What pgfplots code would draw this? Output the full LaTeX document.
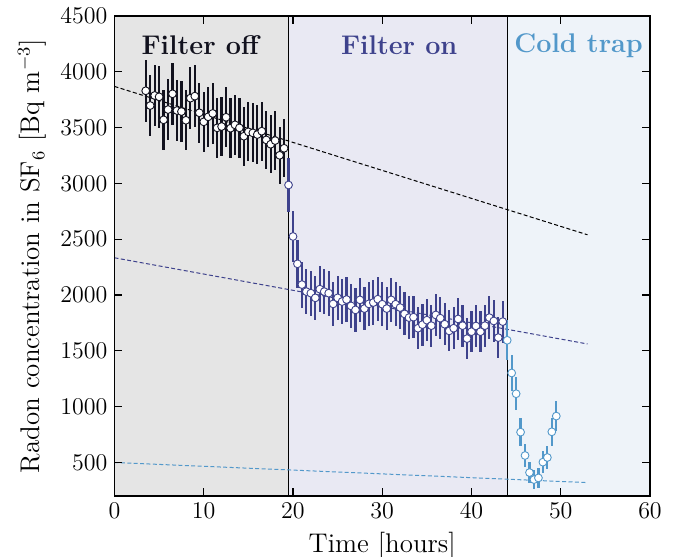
\documentclass[border=0pt]{standalone}
\usepackage{pgfplots}
\usepackage{pgfplotstable}
\pgfplotsset{compat=1.18}
\definecolor{cOff}{RGB}{18,18,30}
\definecolor{cOn}{RGB}{62,66,140}
\definecolor{cCold}{RGB}{82,152,202}
\definecolor{bgOff}{RGB}{229,229,229}
\definecolor{bgOn}{RGB}{233,233,243}
\definecolor{bgCold}{RGB}{238,243,249}

\pgfplotstableread{
x y e
3.5 3830 278
4.0 3698 274
4.5 3788 277
5.0 3776 277
5.5 3570 269
6.0 3662 272
6.5 3803 277
7.0 3653 272
7.5 3644 272
8.0 3566 269
8.5 3764 276
9.0 3782 277
9.5 3633 271
10.0 3552 268
10.5 3597 270
11.0 3627 271
11.5 3498 266
12.0 3510 267
12.5 3593 270
13.0 3495 266
13.5 3525 267
14.0 3498 266
14.5 3423 263
15.0 3462 265
15.5 3453 264
16.0 3438 264
16.5 3468 265
17.0 3390 262
17.5 3351 260
18.0 3384 262
18.5 3252 257
19.0 3315 259
}\dataoff

\pgfplotstableread{
x y e
19.5 2986 246
20.0 2525 226
20.5 2280 215
21.0 2094 206
21.5 2031 203
22.0 2017 202
22.5 1975 200
23.0 2053 204
23.5 2031 203
24.0 2017 202
24.5 1921 197
25.0 1975 200
25.5 1942 198
26.0 1960 199
26.5 1903 196
27.0 1867 194
27.5 1957 199
28.0 1879 195
28.5 1921 197
29.0 1933 198
29.5 1963 199
30.0 1918 197
30.5 1879 195
31.0 1957 199
31.5 1918 197
32.0 1888 196
32.5 1831 193
33.0 1798 191
33.5 1802 191
34.0 1703 186
34.5 1735 187
35.0 1775 190
35.5 1726 187
36.0 1822 192
36.5 1793 191
37.0 1739 188
37.5 1679 184
38.0 1703 186
38.5 1786 190
39.0 1726 187
39.5 1610 181
40.0 1672 184
40.5 1723 187
41.0 1672 184
41.5 1726 187
42.0 1798 191
42.5 1768 189
43.0 1619 181
43.5 1762 189
}\dataon

\pgfplotstableread{
x y e
44.0 1595 180
44.5 1302 162
45.0 1116 150
45.5 772 125
46.0 563 107
46.5 410 91
47.0 347 84
47.5 362 86
48.0 503 101
48.5 545 105
49.0 775 125
49.5 916 136
}\datacold

\begin{document}
\begin{tikzpicture}
\begin{axis}[
  at={(0,0)}, anchor=south west,
  width=267.75pt, height=240pt, scale only axis,
  xmin=0, xmax=60, ymin=200, ymax=4500,
  xtick={0,10,...,60}, ytick={500,1000,...,4500},
  tick align=inside, major tick length=4pt,
  every tick/.style={black, line width=0.6pt},
  axis line style={black, line width=0.9pt},
  tick label style={font=\fontsize{11.5}{13}\selectfont},
  y tick label style={/pgf/number format/1000 sep={}},
  scaled y ticks=false,
  label style={font=\fontsize{13.5}{16}\selectfont},
  xlabel={Time [hours]},
  ylabel={Radon concentration in SF$_6$ [Bq m$^{-3}$]},
  axis on top,
  clip=true,
]
\fill[bgOff] (axis cs:0,200) rectangle (axis cs:19.5,4500);
\fill[bgOn] (axis cs:19.5,200) rectangle (axis cs:44,4500);
\fill[bgCold] (axis cs:44,200) rectangle (axis cs:60,4500);
\draw[black, line width=0.6pt] (axis cs:19.5,200) -- (axis cs:19.5,4500);
\draw[black, line width=0.6pt] (axis cs:44,200) -- (axis cs:44,4500);

\addplot[black, line width=0.5pt, dash pattern=on 2pt off 1.2pt] coordinates {(0,3869) (53,2540)};
\addplot[cOn, line width=0.5pt, dash pattern=on 2pt off 1.2pt] coordinates {(0,2334) (53,1562)};
\addplot[cCold, line width=0.5pt, dash pattern=on 2pt off 1.2pt] coordinates {(0,500) (53,320)};

\addplot[only marks, mark=*, mark size=1.95pt,
  mark options={fill=white, draw=cOff, line width=0.45pt},
  error bars/.cd, y dir=both, y explicit, error mark=none,
  error bar style={line width=1.1pt, cOff}]
  table[x=x, y=y, y error=e] {\dataoff};
\addplot[only marks, mark=*, mark size=1.95pt,
  mark options={fill=white, draw=cOn, line width=0.45pt},
  error bars/.cd, y dir=both, y explicit, error mark=none,
  error bar style={line width=1.1pt, cOn}]
  table[x=x, y=y, y error=e] {\dataon};
\addplot[only marks, mark=*, mark size=1.95pt,
  mark options={fill=white, draw=cCold, line width=0.45pt},
  error bars/.cd, y dir=both, y explicit, error mark=none,
  error bar style={line width=1.1pt, cCold}]
  table[x=x, y=y, y error=e] {\datacold};

\node[font=\fontsize{13.5}{16}\selectfont\bfseries, text=cOff] at (axis cs:9.6,4237) {Filter off};
\node[font=\fontsize{13.5}{16}\selectfont\bfseries, text=cOn] at (axis cs:31.9,4237) {Filter on};
\node[font=\fontsize{13.5}{16}\selectfont\bfseries, text=cCold] at (axis cs:52.0,4237) {Cold trap};
\end{axis}
\pgfresetboundingbox
\path (-57.25pt,-30pt) rectangle (279.25pt,248pt);
\end{tikzpicture}
\end{document}
